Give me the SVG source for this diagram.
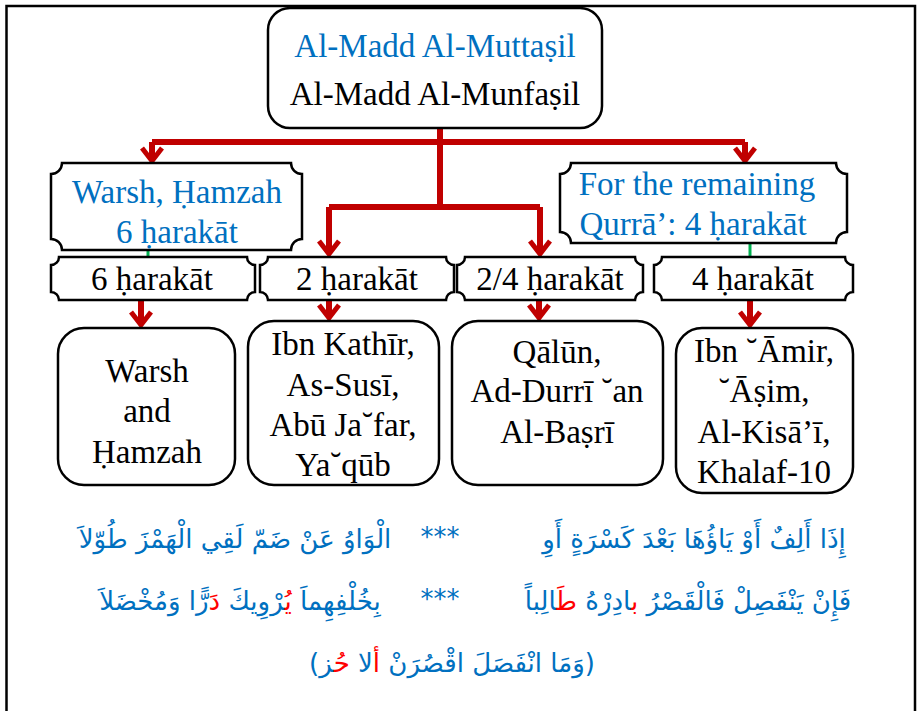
<svg xmlns="http://www.w3.org/2000/svg" width="919" height="711" viewBox="0 0 919 711">
<style>
.en{font-family:"Liberation Serif","Times New Roman",serif;font-size:33px;text-anchor:middle;fill:#000}
.blue{fill:#0070C0}
.box{fill:#fff;stroke:#000;stroke-width:2.5}
.con{fill:none;stroke:#C00000;stroke-width:6}
.grn{fill:none;stroke:#00B050;stroke-width:3}
.ar{font-family:"DejaVu Sans",sans-serif;font-size:26px;text-anchor:middle;fill:#0070C0}
.red{fill:#FF0000}
</style>
<defs>
<marker id="arr" markerUnits="userSpaceOnUse" viewBox="-20 -15 30 30" markerWidth="30" markerHeight="30" refX="0" refY="0" orient="auto" overflow="visible">
<path d="M-13,-10 L0,0 L-13,10" fill="none" stroke="#C00000" stroke-width="5"/>
</marker>
</defs>
<rect width="919" height="711" fill="#fff"/>
<path d="M6.5,711 V6 H915 V711" fill="none" stroke="#000" stroke-width="2.5"/>

<g id="connectors">
<path class="con" d="M440,128 V208"/>
<path class="con" d="M152,142 H745"/>
<path class="con" d="M152,142 V161" marker-end="url(#arr)"/>
<path class="con" d="M745,142 V161" marker-end="url(#arr)"/>
<path class="con" d="M329,207 H540"/>
<path class="con" d="M329,207 V254" marker-end="url(#arr)"/>
<path class="con" d="M540,207 V254" marker-end="url(#arr)"/>
<path class="con" d="M141,300 V325" marker-end="url(#arr)"/>
<path class="con" d="M329,300 V318" marker-end="url(#arr)"/>
<path class="con" d="M539,300 V318" marker-end="url(#arr)"/>
<path class="con" d="M750,300 V325" marker-end="url(#arr)"/>
<path class="grn" d="M148,250 V257"/>
<path class="grn" d="M750,243 V257"/>
</g>

<g id="top">
<rect class="box" x="268" y="8" width="334" height="120" rx="22"/>
<text class="en blue" x="435" y="57">Al-Madd Al-Muttaṣil</text>
<text class="en" x="435" y="105">Al-Madd Al-Munfaṣil</text>
</g>

<g id="warsh-hamzah">
<path class="box" d="M62,163 H291 A11 11 0 0 0 302,174 V239 A11 11 0 0 0 291,250 H62 A11 11 0 0 0 51,239 V174 A11 11 0 0 0 62,163 Z"/>
<text class="en blue" x="177" y="203">Warsh, Ḥamzah</text>
<text class="en blue" x="177" y="243">6 ḥarakāt</text>
</g>

<g id="remaining">
<path class="box" d="M571,163 H836 A11 11 0 0 0 847,174 V232 A11 11 0 0 0 836,243 H571 A11 11 0 0 0 560,232 V174 A11 11 0 0 0 571,163 Z"/>
<text class="en blue" x="697" y="195">For the remaining</text>
<text class="en blue" x="693" y="235">Qurrā’: 4 ḥarakāt</text>
</g>

<g id="l6">
<path class="box" d="M59,257 H247 A8 8 0 0 0 255,265 V292 A8 8 0 0 0 247,300 H59 A8 8 0 0 0 51,292 V265 A8 8 0 0 0 59,257 Z"/>
<text class="en" x="152" y="290">6 ḥarakāt</text>
</g>
<g id="l2">
<path class="box" d="M268,257 H446 A8 8 0 0 0 454,265 V292 A8 8 0 0 0 446,300 H268 A8 8 0 0 0 260,292 V265 A8 8 0 0 0 268,257 Z"/>
<text class="en" x="357" y="290">2 ḥarakāt</text>
</g>
<g id="l24">
<path class="box" d="M465,257 H635 A8 8 0 0 0 643,265 V292 A8 8 0 0 0 635,300 H465 A8 8 0 0 0 457,292 V265 A8 8 0 0 0 465,257 Z"/>
<text class="en" x="550" y="290">2/4 ḥarakāt</text>
</g>
<g id="l4">
<path class="box" d="M662,257 H845 A8 8 0 0 0 853,265 V292 A8 8 0 0 0 845,300 H662 A8 8 0 0 0 654,292 V265 A8 8 0 0 0 662,257 Z"/>
<text class="en" x="753" y="290">4 ḥarakāt</text>
</g>

<g id="b-warsh">
<rect class="box" x="58" y="328" width="177" height="157" rx="26"/>
<text class="en" x="147" y="382">Warsh</text>
<text class="en" x="147" y="422">and</text>
<text class="en" x="147" y="463">Ḥamzah</text>
</g>
<g id="b-ibnkathir">
<rect class="box" x="248" y="321" width="191" height="164" rx="26"/>
<text class="en" x="343" y="355">Ibn Kathīr,</text>
<text class="en" x="343" y="396">As-Susī,</text>
<text class="en" x="343" y="436">Abū Ja˘far,</text>
<text class="en" x="343" y="476">Ya˘qūb</text>
</g>
<g id="b-qalun">
<rect class="box" x="452" y="321" width="211" height="164" rx="26"/>
<text class="en" x="557" y="363">Qālūn,</text>
<text class="en" x="557" y="402">Ad-Durrī ˘an</text>
<text class="en" x="557" y="443">Al-Baṣrī</text>
</g>
<g id="b-ibnamir">
<rect class="box" x="676" y="328" width="177" height="165" rx="26"/>
<text class="en" x="764" y="362">Ibn ˘Āmir,</text>
<text class="en" x="764" y="402">˘Āṣim,</text>
<text class="en" x="764" y="443">Al-Kisā’ī,</text>
<text class="en" x="764" y="483">Khalaf-10</text>
</g>

<g id="verse">
<text class="ar" x="694" y="548">إِذَا أَلِفٌ أَوْ يَاؤُهَا بَعْدَ كَسْرَةٍ أَوِ</text>
<text class="ar" x="440" y="546">***</text>
<text class="ar" x="235" y="548">الْوَاوُ عَنْ ضَمّ لَقِي الْهَمْزَ طُوّلاَ</text>
<text class="ar" x="688" y="610">فَإِنْ يَنْفَصِلْ فَالْقَصْرُ <tspan class="red">ب</tspan>ادِرْهُ <tspan class="red">طَ</tspan>الِباً</text>
<text class="ar" x="440" y="608">***</text>
<text class="ar" x="240" y="610">بِخُلْفِهِماَ <tspan class="red">يُ</tspan>رْوِيكَ <tspan class="red">دَ</tspan>رًّا وَمُخْضَلاَ</text>
<text class="ar" x="452" y="672">(وَمَا انْفَصَلَ اقْصُرَنْ <tspan class="red">أ</tspan>لا <tspan class="red">حُ</tspan>ز)</text>
</g>
</svg>
